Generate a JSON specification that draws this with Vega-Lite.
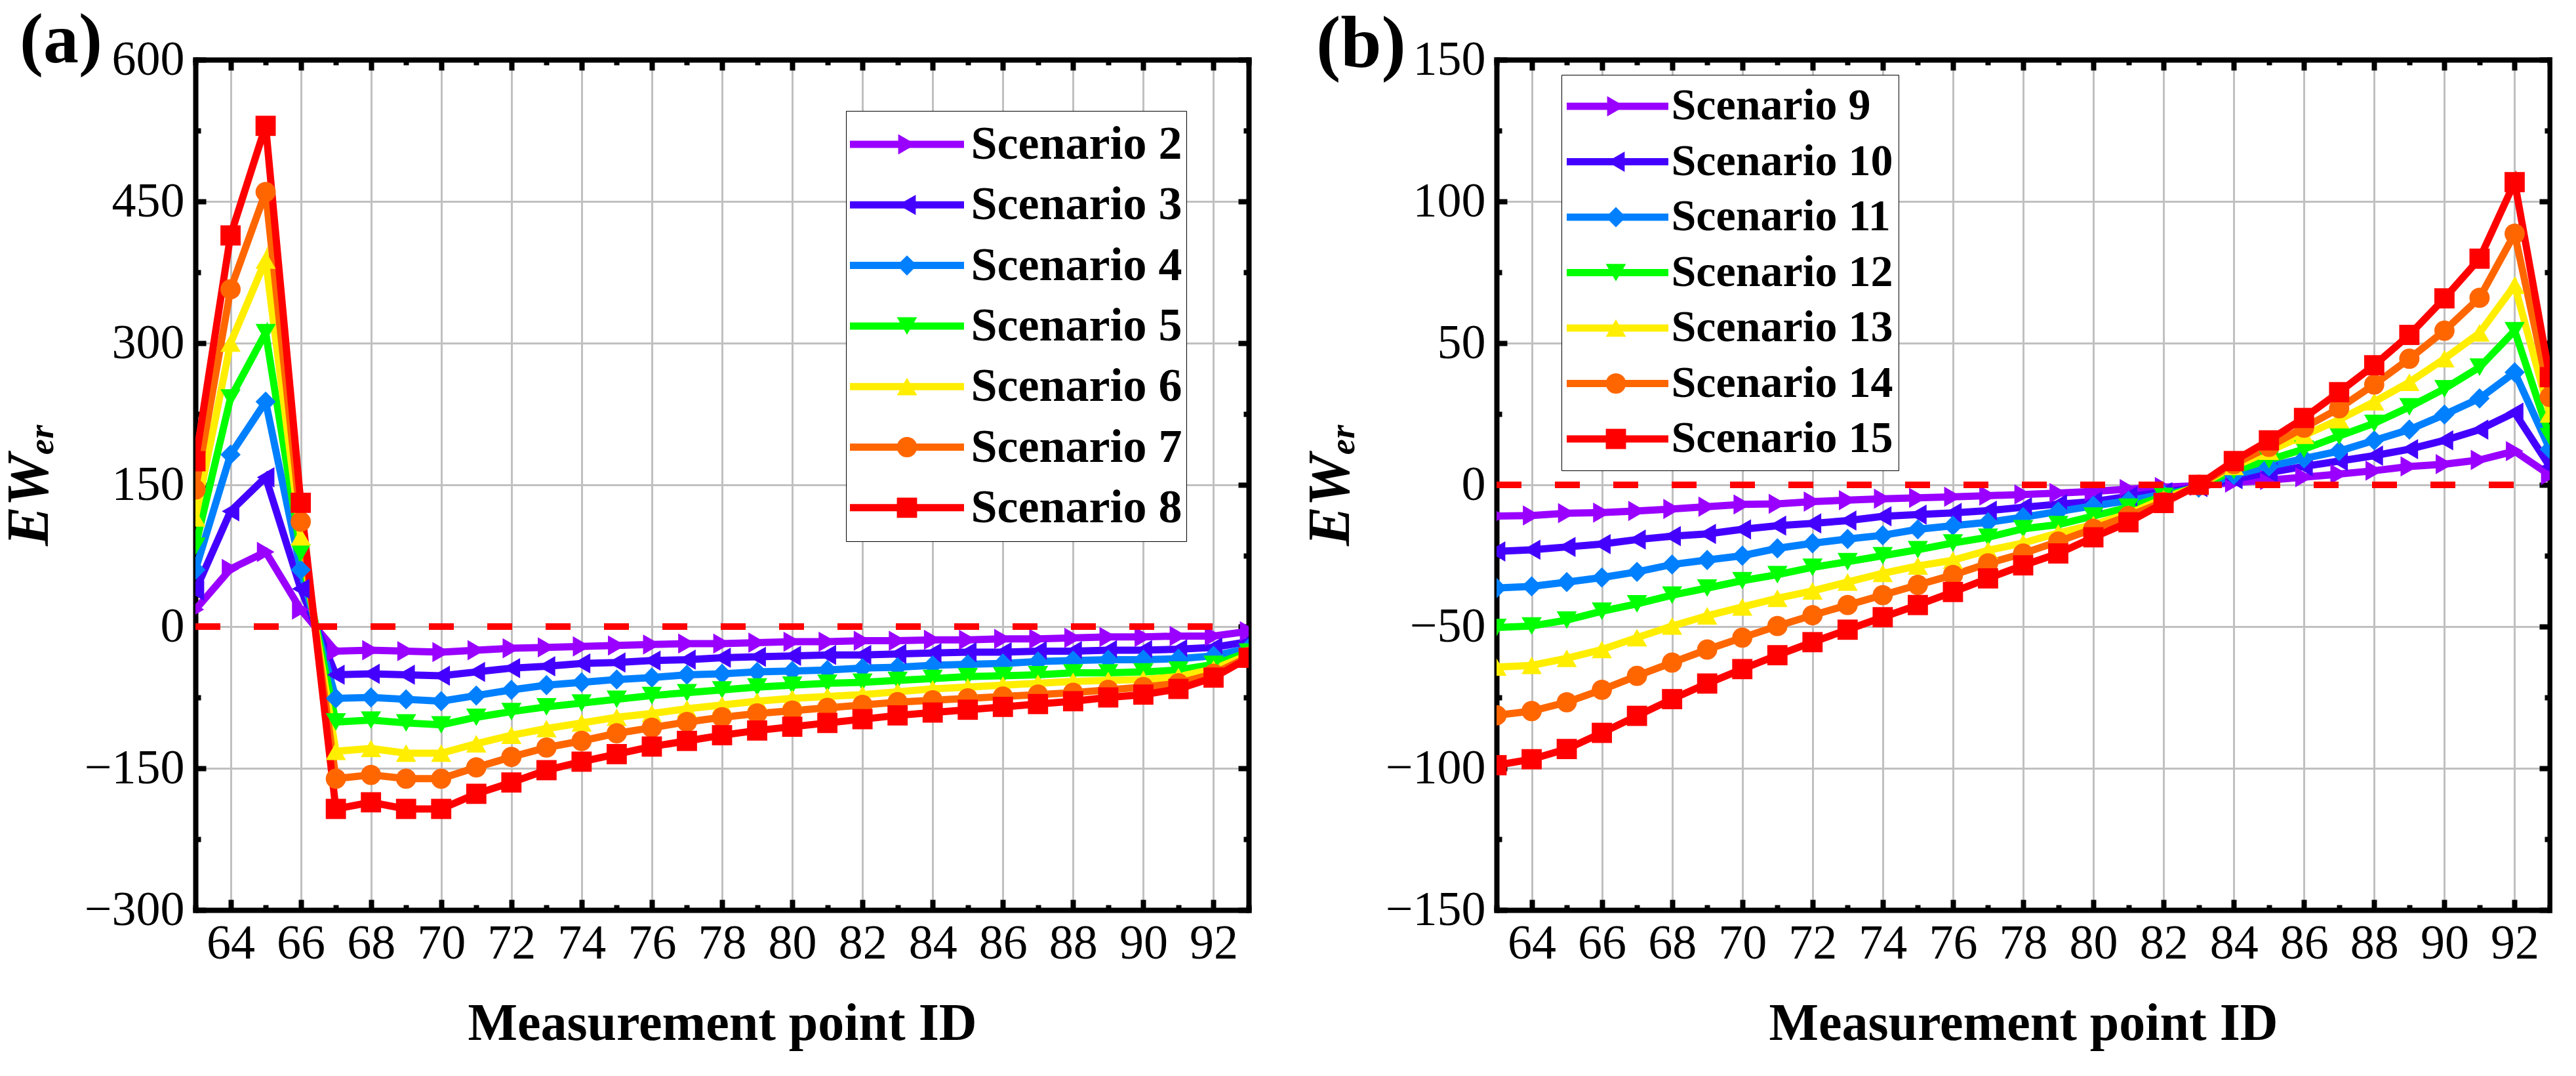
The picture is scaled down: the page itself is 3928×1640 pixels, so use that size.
{
  "$schema": "https://vega.github.io/schema/vega-lite/v6.json",
  "background": "white",
  "padding": {"left": 0, "top": 9, "right": 0, "bottom": 8},
  "datasets": {
    "a": [
      {"id": 63, "Scenario 2": 18, "Scenario 3": 38, "Scenario 4": 60, "Scenario 5": 85, "Scenario 6": 115, "Scenario 7": 145, "Scenario 8": 175},
      {"id": 64, "Scenario 2": 61, "Scenario 3": 122, "Scenario 4": 182, "Scenario 5": 242, "Scenario 6": 300, "Scenario 7": 357, "Scenario 8": 414},
      {"id": 65, "Scenario 2": 79, "Scenario 3": 158, "Scenario 4": 238, "Scenario 5": 311, "Scenario 6": 388, "Scenario 7": 460, "Scenario 8": 530},
      {"id": 66, "Scenario 2": 18, "Scenario 3": 40, "Scenario 4": 60, "Scenario 5": 78, "Scenario 6": 95, "Scenario 7": 111, "Scenario 8": 131},
      {"id": 67, "Scenario 2": -26, "Scenario 3": -51, "Scenario 4": -76, "Scenario 5": -101, "Scenario 6": -132, "Scenario 7": -161, "Scenario 8": -193},
      {"id": 68, "Scenario 2": -25, "Scenario 3": -50, "Scenario 4": -75, "Scenario 5": -99, "Scenario 6": -129, "Scenario 7": -157, "Scenario 8": -186},
      {"id": 69, "Scenario 2": -26, "Scenario 3": -51, "Scenario 4": -77, "Scenario 5": -102, "Scenario 6": -134, "Scenario 7": -161, "Scenario 8": -193},
      {"id": 70, "Scenario 2": -27, "Scenario 3": -52, "Scenario 4": -79, "Scenario 5": -104, "Scenario 6": -134, "Scenario 7": -161, "Scenario 8": -193},
      {"id": 71, "Scenario 2": -25, "Scenario 3": -48, "Scenario 4": -73, "Scenario 5": -96, "Scenario 6": -124, "Scenario 7": -149, "Scenario 8": -177},
      {"id": 72, "Scenario 2": -23, "Scenario 3": -44, "Scenario 4": -67, "Scenario 5": -90, "Scenario 6": -115, "Scenario 7": -138, "Scenario 8": -165},
      {"id": 73, "Scenario 2": -22, "Scenario 3": -42, "Scenario 4": -62, "Scenario 5": -85, "Scenario 6": -108, "Scenario 7": -128, "Scenario 8": -152},
      {"id": 74, "Scenario 2": -21, "Scenario 3": -39, "Scenario 4": -59, "Scenario 5": -81, "Scenario 6": -102, "Scenario 7": -121, "Scenario 8": -143},
      {"id": 75, "Scenario 2": -20, "Scenario 3": -38, "Scenario 4": -56, "Scenario 5": -77, "Scenario 6": -96, "Scenario 7": -113, "Scenario 8": -135},
      {"id": 76, "Scenario 2": -19, "Scenario 3": -36, "Scenario 4": -54, "Scenario 5": -73, "Scenario 6": -92, "Scenario 7": -107, "Scenario 8": -127},
      {"id": 77, "Scenario 2": -18, "Scenario 3": -35, "Scenario 4": -51, "Scenario 5": -70, "Scenario 6": -87, "Scenario 7": -101, "Scenario 8": -121},
      {"id": 78, "Scenario 2": -18, "Scenario 3": -33, "Scenario 4": -50, "Scenario 5": -67, "Scenario 6": -83, "Scenario 7": -96, "Scenario 8": -115},
      {"id": 79, "Scenario 2": -17, "Scenario 3": -32, "Scenario 4": -48, "Scenario 5": -64, "Scenario 6": -79, "Scenario 7": -92, "Scenario 8": -110},
      {"id": 80, "Scenario 2": -16, "Scenario 3": -31, "Scenario 4": -47, "Scenario 5": -62, "Scenario 6": -76, "Scenario 7": -89, "Scenario 8": -106},
      {"id": 81, "Scenario 2": -16, "Scenario 3": -30, "Scenario 4": -46, "Scenario 5": -60, "Scenario 6": -74, "Scenario 7": -86, "Scenario 8": -102},
      {"id": 82, "Scenario 2": -15, "Scenario 3": -30, "Scenario 4": -44, "Scenario 5": -59, "Scenario 6": -72, "Scenario 7": -83, "Scenario 8": -98},
      {"id": 83, "Scenario 2": -15, "Scenario 3": -29, "Scenario 4": -43, "Scenario 5": -57, "Scenario 6": -69, "Scenario 7": -80, "Scenario 8": -94},
      {"id": 84, "Scenario 2": -14, "Scenario 3": -28, "Scenario 4": -41, "Scenario 5": -55, "Scenario 6": -66, "Scenario 7": -78, "Scenario 8": -91},
      {"id": 85, "Scenario 2": -14, "Scenario 3": -27, "Scenario 4": -40, "Scenario 5": -53, "Scenario 6": -64, "Scenario 7": -76, "Scenario 8": -88},
      {"id": 86, "Scenario 2": -13, "Scenario 3": -27, "Scenario 4": -39, "Scenario 5": -52, "Scenario 6": -62, "Scenario 7": -74, "Scenario 8": -85},
      {"id": 87, "Scenario 2": -13, "Scenario 3": -26, "Scenario 4": -37, "Scenario 5": -51, "Scenario 6": -60, "Scenario 7": -72, "Scenario 8": -82},
      {"id": 88, "Scenario 2": -12, "Scenario 3": -26, "Scenario 4": -36, "Scenario 5": -49, "Scenario 6": -58, "Scenario 7": -70, "Scenario 8": -79},
      {"id": 89, "Scenario 2": -11, "Scenario 3": -25, "Scenario 4": -35, "Scenario 5": -49, "Scenario 6": -57, "Scenario 7": -67, "Scenario 8": -75},
      {"id": 90, "Scenario 2": -11, "Scenario 3": -25, "Scenario 4": -35, "Scenario 5": -48, "Scenario 6": -56, "Scenario 7": -64, "Scenario 8": -72},
      {"id": 91, "Scenario 2": -10, "Scenario 3": -24, "Scenario 4": -34, "Scenario 5": -46, "Scenario 6": -53, "Scenario 7": -60, "Scenario 8": -66},
      {"id": 92, "Scenario 2": -10, "Scenario 3": -22, "Scenario 4": -31, "Scenario 5": -40, "Scenario 6": -45, "Scenario 7": -50, "Scenario 8": -54},
      {"id": 93, "Scenario 2": -5, "Scenario 3": -16, "Scenario 4": -23, "Scenario 5": -27, "Scenario 6": -30, "Scenario 7": -32, "Scenario 8": -33}
    ],
    "b": [
      {"id": 63, "Scenario 9": -11.0, "Scenario 10": -23.5, "Scenario 11": -36.4, "Scenario 12": -50.3, "Scenario 13": -64.3, "Scenario 14": -81.3, "Scenario 15": -98.9},
      {"id": 64, "Scenario 9": -10.8, "Scenario 10": -22.9, "Scenario 11": -35.8, "Scenario 12": -49.8, "Scenario 13": -63.7, "Scenario 14": -79.8, "Scenario 15": -96.8},
      {"id": 65, "Scenario 9": -10.0, "Scenario 10": -21.9, "Scenario 11": -34.3, "Scenario 12": -47.7, "Scenario 13": -61.2, "Scenario 14": -76.7, "Scenario 15": -93.2},
      {"id": 66, "Scenario 9": -9.8, "Scenario 10": -20.9, "Scenario 11": -32.7, "Scenario 12": -44.6, "Scenario 13": -58.1, "Scenario 14": -72.3, "Scenario 15": -87.5},
      {"id": 67, "Scenario 9": -9.2, "Scenario 10": -19.3, "Scenario 11": -30.7, "Scenario 12": -42.0, "Scenario 13": -53.9, "Scenario 14": -67.4, "Scenario 15": -81.5},
      {"id": 68, "Scenario 9": -8.5, "Scenario 10": -18.1, "Scenario 11": -28.1, "Scenario 12": -38.9, "Scenario 13": -49.8, "Scenario 14": -62.7, "Scenario 15": -75.6},
      {"id": 69, "Scenario 9": -7.7, "Scenario 10": -17.3, "Scenario 11": -26.5, "Scenario 12": -36.4, "Scenario 13": -46.2, "Scenario 14": -58.1, "Scenario 15": -70.1},
      {"id": 70, "Scenario 9": -6.9, "Scenario 10": -15.7, "Scenario 11": -25.0, "Scenario 12": -33.8, "Scenario 13": -43.1, "Scenario 14": -53.9, "Scenario 15": -65.0},
      {"id": 71, "Scenario 9": -6.7, "Scenario 10": -14.4, "Scenario 11": -22.4, "Scenario 12": -31.7, "Scenario 13": -40.0, "Scenario 14": -49.8, "Scenario 15": -60.1},
      {"id": 72, "Scenario 9": -5.9, "Scenario 10": -13.6, "Scenario 11": -20.6, "Scenario 12": -29.1, "Scenario 13": -37.4, "Scenario 14": -46.0, "Scenario 15": -55.5},
      {"id": 73, "Scenario 9": -5.4, "Scenario 10": -12.6, "Scenario 11": -19.1, "Scenario 12": -27.1, "Scenario 13": -34.3, "Scenario 14": -42.4, "Scenario 15": -51.1},
      {"id": 74, "Scenario 9": -4.9, "Scenario 10": -11.1, "Scenario 11": -17.8, "Scenario 12": -25.0, "Scenario 13": -31.2, "Scenario 14": -38.9, "Scenario 15": -46.7},
      {"id": 75, "Scenario 9": -4.6, "Scenario 10": -10.5, "Scenario 11": -15.7, "Scenario 12": -22.9, "Scenario 13": -28.6, "Scenario 14": -35.3, "Scenario 15": -42.4},
      {"id": 76, "Scenario 9": -4.2, "Scenario 10": -9.9, "Scenario 11": -14.4, "Scenario 12": -20.5, "Scenario 13": -26.6, "Scenario 14": -31.8, "Scenario 15": -37.8},
      {"id": 77, "Scenario 9": -3.8, "Scenario 10": -9.1, "Scenario 11": -13.2, "Scenario 12": -18.5, "Scenario 13": -23.1, "Scenario 14": -27.7, "Scenario 15": -33.0},
      {"id": 78, "Scenario 9": -3.4, "Scenario 10": -7.9, "Scenario 11": -11.4, "Scenario 12": -15.5, "Scenario 13": -20.5, "Scenario 14": -24.2, "Scenario 15": -28.4},
      {"id": 79, "Scenario 9": -2.9, "Scenario 10": -6.8, "Scenario 11": -9.4, "Scenario 12": -14.0, "Scenario 13": -17.0, "Scenario 14": -20.0, "Scenario 15": -24.2},
      {"id": 80, "Scenario 9": -2.3, "Scenario 10": -5.9, "Scenario 11": -7.4, "Scenario 12": -11.0, "Scenario 13": -14.0, "Scenario 14": -15.5, "Scenario 15": -18.5},
      {"id": 81, "Scenario 9": -1.5, "Scenario 10": -4.1, "Scenario 11": -5.6, "Scenario 12": -7.9, "Scenario 13": -10.2, "Scenario 14": -11.0, "Scenario 15": -13.2},
      {"id": 82, "Scenario 9": -0.8, "Scenario 10": -2.6, "Scenario 11": -3.3, "Scenario 12": -4.1, "Scenario 13": -4.9, "Scenario 14": -6.0, "Scenario 15": -6.4},
      {"id": 83, "Scenario 9": -0.3, "Scenario 10": -0.8, "Scenario 11": -1.0, "Scenario 12": -0.5, "Scenario 13": -0.3, "Scenario 14": 0.0, "Scenario 15": 0.0},
      {"id": 84, "Scenario 9": 0.8, "Scenario 10": 2.0, "Scenario 11": 3.5, "Scenario 12": 5.0, "Scenario 13": 6.5, "Scenario 14": 7.3, "Scenario 15": 8.4},
      {"id": 85, "Scenario 9": 1.7, "Scenario 10": 4.3, "Scenario 11": 6.5, "Scenario 12": 8.8, "Scenario 13": 11.9, "Scenario 14": 13.4, "Scenario 15": 15.7},
      {"id": 86, "Scenario 9": 2.7, "Scenario 10": 6.5, "Scenario 11": 9.3, "Scenario 12": 12.6, "Scenario 13": 17.5, "Scenario 14": 20.2, "Scenario 15": 23.6},
      {"id": 87, "Scenario 9": 3.8, "Scenario 10": 8.4, "Scenario 11": 11.9, "Scenario 12": 17.2, "Scenario 13": 23.0, "Scenario 14": 27.0, "Scenario 15": 32.7},
      {"id": 88, "Scenario 9": 5.0, "Scenario 10": 10.3, "Scenario 11": 15.7, "Scenario 12": 21.7, "Scenario 13": 29.3, "Scenario 14": 35.4, "Scenario 15": 42.2},
      {"id": 89, "Scenario 9": 6.5, "Scenario 10": 12.6, "Scenario 11": 19.5, "Scenario 12": 27.5, "Scenario 13": 36.2, "Scenario 14": 44.5, "Scenario 15": 52.9},
      {"id": 90, "Scenario 9": 7.3, "Scenario 10": 15.7, "Scenario 11": 24.8, "Scenario 12": 33.9, "Scenario 13": 44.5, "Scenario 14": 54.4, "Scenario 15": 65.8},
      {"id": 91, "Scenario 9": 8.8, "Scenario 10": 19.5, "Scenario 11": 30.5, "Scenario 12": 41.5, "Scenario 13": 53.6, "Scenario 14": 66.0, "Scenario 15": 79.8},
      {"id": 92, "Scenario 9": 11.9, "Scenario 10": 25.5, "Scenario 11": 39.7, "Scenario 12": 54.4, "Scenario 13": 70.4, "Scenario 14": 88.6, "Scenario 15": 106.8},
      {"id": 93, "Scenario 9": 3.5, "Scenario 10": 6.5, "Scenario 11": 12.6, "Scenario 12": 17.0, "Scenario 13": 25.0, "Scenario 14": 31.0, "Scenario 15": 38.0}
    ]
  },
  "config": {
    "font": "Liberation Serif",
    "view": {"stroke": null},
    "axis": {
      "labelFont": "Liberation Serif",
      "labelFontSize": 74,
      "labelColor": "black",
      "labelFlush": false,
      "labelOverlap": false,
      "titleFont": "Liberation Serif",
      "titleColor": "black",
      "domainColor": "black",
      "domainWidth": 8,
      "domainCap": "square",
      "tickColor": "black",
      "tickWidth": 8,
      "gridColor": "#c0c0c0",
      "gridWidth": 3
    },
    "legend": {
      "labelFont": "Liberation Serif",
      "labelFontWeight": "bold",
      "labelLimit": 1000,
      "title": null
    },
    "title": {"font": "Liberation Serif", "color": "black", "fontWeight": "bold"}
  },
  "spacing": 378,
  "bounds": "flush",
  "resolve": {"scale": {"x": "independent", "y": "independent", "color": "independent", "shape": "independent"}},
  "hconcat": [
    {
      "width": 1606,
      "height": 1296,
      "title": {"text": "(a)", "anchor": "start", "frame": "group", "dx": -268, "dy": 149, "offset": 0, "baseline": "alphabetic", "fontSize": 108},
      "resolve": {"axis": {"x": "independent", "y": "independent"}},
      "layer": [
        {
          "data": {"name": "a"},
          "transform": [{"fold": ["Scenario 2", "Scenario 3", "Scenario 4", "Scenario 5", "Scenario 6", "Scenario 7", "Scenario 8"], "as": ["scenario", "EWer"]}],
          "mark": {"type": "line", "strokeWidth": 11, "clip": true},
          "encoding": {
            "x": {"field": "id", "type": "quantitative", "scale": {"domain": [63, 93], "nice": false, "zero": false},
              "axis": {"orient": "bottom", "values": [64, 66, 68, 70, 72, 74, 76, 78, 80, 82, 84, 86, 88, 90, 92], "tickSize": -16, "labelPadding": 31, "grid": true, "title": "Measurement point ID", "titleFontSize": 80, "titleFontWeight": "bold", "titlePadding": 46}},
            "y": {"field": "EWer", "type": "quantitative", "scale": {"domain": [-300, 600], "nice": false, "zero": false},
              "axis": {"orient": "left", "values": [-300, -150, 0, 150, 300, 450, 600], "tickSize": -16, "labelPadding": 33, "grid": true, "title": "EWₑᵣ", "titleFontSize": 90, "titleFontStyle": "italic", "titleFontWeight": "bold", "titlePadding": 37}},
            "color": {"field": "scenario", "type": "nominal",
              "scale": {"domain": ["Scenario 2", "Scenario 3", "Scenario 4", "Scenario 5", "Scenario 6", "Scenario 7", "Scenario 8"], "range": ["#9900ff", "#4400ff", "#0080ff", "#00ff00", "#ffee00", "#ff6600", "#ff0000"]},
              "legend": {
                "orient": "none", "legendX": 992, "legendY": 78,
                "fillColor": "white", "strokeColor": "black", "padding": 6,
                "labelFontSize": 72, "labelColor": "black", "labelOffset": 5,
                "clipHeight": 90, "rowPadding": 2.3,
                "symbolType": "stroke", "symbolSize": 30276, "symbolStrokeWidth": 11, "symbolOffset": -5.5
              }}
          }
        },
        {
          "data": {"name": "a"},
          "transform": [{"fold": ["Scenario 2", "Scenario 3", "Scenario 4", "Scenario 5", "Scenario 6", "Scenario 7", "Scenario 8"], "as": ["scenario", "EWer"]}],
          "mark": {"type": "point", "filled": true, "opacity": 1, "strokeWidth": 0, "size": 950, "clip": true},
          "encoding": {
            "x": {"field": "id", "type": "quantitative",
              "axis": {"orient": "top", "values": [64, 66, 68, 70, 72, 74, 76, 78, 80, 82, 84, 86, 88, 90, 92], "tickSize": -16, "labels": false, "grid": false, "title": null}},
            "y": {"field": "EWer", "type": "quantitative",
              "axis": {"orient": "right", "values": [-300, -150, 0, 150, 300, 450, 600], "tickSize": -16, "labels": false, "grid": false, "title": null}},
            "color": {"field": "scenario", "type": "nominal"},
            "shape": {"field": "scenario", "type": "nominal",
              "scale": {"domain": ["Scenario 2", "Scenario 3", "Scenario 4", "Scenario 5", "Scenario 6", "Scenario 7", "Scenario 8", "none"], "range": ["triangle-right", "triangle-left", "diamond", "triangle-down", "triangle-up", "circle", "square", "circle"]},
              "legend": {
                "orient": "none", "legendX": 1043, "legendY": 78, "padding": 6,
                "labelFontSize": 72, "labelColor": "transparent", "labelExpr": "' '",
                "clipHeight": 90, "rowPadding": 2.3,
                "symbolSize": 950, "symbolStrokeWidth": 0, "symbolOpacity": 1,
                "symbolFillColor": {"expr": "['#9900ff','#4400ff','#0080ff','#00ff00','#ffee00','#ff6600','#ff0000','transparent'][datum.index]"}
              }}
          }
        },
        {
          "data": {"values": [{}]},
          "mark": {"type": "rule", "color": "#ff0000", "strokeWidth": 10, "strokeDash": [38, 51]},
          "encoding": {
            "x": {"datum": 63, "type": "quantitative",
              "axis": {"orient": "bottom", "values": [63, 65, 67, 69, 71, 73, 75, 77, 79, 81, 83, 85, 87, 89, 91, 93], "tickSize": -8, "labels": false, "grid": false, "domain": false, "title": null}},
            "x2": {"datum": 92},
            "y": {"datum": 0, "type": "quantitative",
              "axis": {"orient": "left", "values": [-225, -75, 75, 225, 375, 525], "tickSize": -8, "labels": false, "grid": false, "domain": false, "title": null}}
          }
        },
        {
          "data": {"values": [{}]},
          "mark": {"type": "rule", "opacity": 0},
          "encoding": {
            "x": {"datum": 63, "type": "quantitative",
              "axis": {"orient": "top", "values": [63, 65, 67, 69, 71, 73, 75, 77, 79, 81, 83, 85, 87, 89, 91, 93], "tickSize": -8, "labels": false, "grid": false, "domain": false, "title": null}},
            "x2": {"datum": 92},
            "y": {"datum": 0, "type": "quantitative",
              "axis": {"orient": "right", "values": [-225, -75, 75, 225, 375, 525], "tickSize": -8, "labels": false, "grid": false, "domain": false, "title": null}}
          }
        }
      ]
    },
    {
      "width": 1606,
      "height": 1296,
      "title": {"text": "(b)", "anchor": "start", "frame": "group", "dx": -275, "dy": 160, "offset": 0, "baseline": "alphabetic", "fontSize": 112},
      "resolve": {"axis": {"x": "independent", "y": "independent"}},
      "layer": [
        {
          "data": {"name": "b"},
          "transform": [{"fold": ["Scenario 9", "Scenario 10", "Scenario 11", "Scenario 12", "Scenario 13", "Scenario 14", "Scenario 15"], "as": ["scenario", "EWer"]}],
          "mark": {"type": "line", "strokeWidth": 11, "clip": true},
          "encoding": {
            "x": {"field": "id", "type": "quantitative", "scale": {"domain": [63, 93], "nice": false, "zero": false},
              "axis": {"orient": "bottom", "values": [64, 66, 68, 70, 72, 74, 76, 78, 80, 82, 84, 86, 88, 90, 92], "tickSize": -16, "labelPadding": 31, "grid": true, "title": "Measurement point ID", "titleFontSize": 80, "titleFontWeight": "bold", "titlePadding": 46}},
            "y": {"field": "EWer", "type": "quantitative", "scale": {"domain": [-150, 150], "nice": false, "zero": false},
              "axis": {"orient": "left", "values": [-150, -100, -50, 0, 50, 100, 150], "tickSize": -16, "labelPadding": 33, "grid": true, "title": "EWₑᵣ", "titleFontSize": 90, "titleFontStyle": "italic", "titleFontWeight": "bold", "titlePadding": 37}},
            "color": {"field": "scenario", "type": "nominal",
              "scale": {"domain": ["Scenario 9", "Scenario 10", "Scenario 11", "Scenario 12", "Scenario 13", "Scenario 14", "Scenario 15"], "range": ["#9900ff", "#4400ff", "#0080ff", "#00ff00", "#ffee00", "#ff6600", "#ff0000"]},
              "legend": {
                "orient": "none", "legendX": 99, "legendY": 23,
                "fillColor": "white", "strokeColor": "black", "padding": 8,
                "labelFontSize": 68, "labelColor": "black", "labelOffset": -1,
                "clipHeight": 80, "rowPadding": 4.5,
                "symbolType": "stroke", "symbolSize": 25600, "symbolStrokeWidth": 11, "symbolOffset": -10.5
              }}
          }
        },
        {
          "data": {"name": "b"},
          "transform": [{"fold": ["Scenario 9", "Scenario 10", "Scenario 11", "Scenario 12", "Scenario 13", "Scenario 14", "Scenario 15"], "as": ["scenario", "EWer"]}],
          "mark": {"type": "point", "filled": true, "opacity": 1, "strokeWidth": 0, "size": 950, "clip": true},
          "encoding": {
            "x": {"field": "id", "type": "quantitative",
              "axis": {"orient": "top", "values": [64, 66, 68, 70, 72, 74, 76, 78, 80, 82, 84, 86, 88, 90, 92], "tickSize": -16, "labels": false, "grid": false, "title": null}},
            "y": {"field": "EWer", "type": "quantitative",
              "axis": {"orient": "right", "values": [-150, -100, -50, 0, 50, 100, 150], "tickSize": -16, "labels": false, "grid": false, "title": null}},
            "color": {"field": "scenario", "type": "nominal"},
            "shape": {"field": "scenario", "type": "nominal",
              "scale": {"domain": ["Scenario 9", "Scenario 10", "Scenario 11", "Scenario 12", "Scenario 13", "Scenario 14", "Scenario 15", "none"], "range": ["triangle-right", "triangle-left", "diamond", "triangle-down", "triangle-up", "circle", "square", "circle"]},
              "legend": {
                "orient": "none", "legendX": 140, "legendY": 23, "padding": 8,
                "labelFontSize": 68, "labelColor": "transparent", "labelExpr": "' '",
                "clipHeight": 80, "rowPadding": 4.5,
                "symbolSize": 950, "symbolStrokeWidth": 0, "symbolOpacity": 1,
                "symbolFillColor": {"expr": "['#9900ff','#4400ff','#0080ff','#00ff00','#ffee00','#ff6600','#ff0000','transparent'][datum.index]"}
              }}
          }
        },
        {
          "data": {"values": [{}]},
          "mark": {"type": "rule", "color": "#ff0000", "strokeWidth": 10, "strokeDash": [38, 51]},
          "encoding": {
            "x": {"datum": 63, "type": "quantitative",
              "axis": {"orient": "bottom", "values": [63, 65, 67, 69, 71, 73, 75, 77, 79, 81, 83, 85, 87, 89, 91, 93], "tickSize": -8, "labels": false, "grid": false, "domain": false, "title": null}},
            "x2": {"datum": 92},
            "y": {"datum": 0, "type": "quantitative",
              "axis": {"orient": "left", "values": [-125, -75, -25, 25, 75, 125], "tickSize": -8, "labels": false, "grid": false, "domain": false, "title": null}}
          }
        },
        {
          "data": {"values": [{}]},
          "mark": {"type": "rule", "opacity": 0},
          "encoding": {
            "x": {"datum": 63, "type": "quantitative",
              "axis": {"orient": "top", "values": [63, 65, 67, 69, 71, 73, 75, 77, 79, 81, 83, 85, 87, 89, 91, 93], "tickSize": -8, "labels": false, "grid": false, "domain": false, "title": null}},
            "x2": {"datum": 92},
            "y": {"datum": 0, "type": "quantitative",
              "axis": {"orient": "right", "values": [-125, -75, -25, 25, 75, 125], "tickSize": -8, "labels": false, "grid": false, "domain": false, "title": null}}
          }
        }
      ]
    }
  ]
}
